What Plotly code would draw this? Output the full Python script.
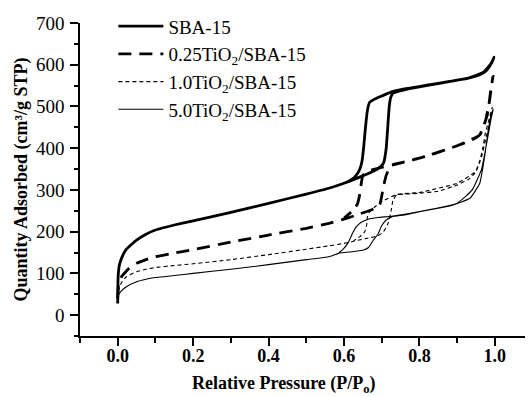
import plotly.graph_objects as go

# ---------------- data ----------------
names = ["SBA-15", "0.25TiO<sub>2</sub>/SBA-15", "1.0TiO<sub>2</sub>/SBA-15", "5.0TiO<sub>2</sub>/SBA-15"]

# SBA-15: adsorption branch then desorption branch
sba_x = [0.0, 0.001, 0.004, 0.01, 0.023, 0.05, 0.075, 0.1, 0.15, 0.2, 0.3, 0.4, 0.5, 0.56, 0.6, 0.64, 0.68, 0.695,
         0.705, 0.712, 0.716, 0.72, 0.724, 0.73, 0.76, 0.8, 0.85, 0.9, 0.94, 0.96, 0.975, 0.985, 0.993, 0.998,
         0.99, 0.97, 0.93, 0.88, 0.82, 0.76, 0.726, 0.70, 0.68, 0.668, 0.662, 0.657, 0.652, 0.648, 0.643, 0.635, 0.625, 0.61]
sba_y = [28, 90, 118, 136, 158, 180, 194, 204, 216, 226, 246, 268, 290, 304, 316, 330, 346, 354,
         365, 400, 450, 500, 522, 532, 540, 547, 555, 563, 570, 576, 584, 595, 607, 618,
         603, 582, 568, 560, 551, 542, 535, 525, 517, 510, 490, 450, 400, 370, 352, 338, 328, 320]

# 0.25TiO2/SBA-15
t025_x = [0.0, 0.002, 0.01, 0.03, 0.05, 0.075, 0.1, 0.15, 0.2, 0.3, 0.4, 0.5, 0.56, 0.6, 0.64, 0.68, 0.695, 0.70,
          0.705, 0.712, 0.72, 0.73, 0.76, 0.8, 0.85, 0.9, 0.94, 0.96, 0.975, 0.985, 0.99, 0.995,
          0.99, 0.98, 0.96, 0.9, 0.8, 0.73, 0.69, 0.665, 0.65, 0.645, 0.642, 0.635, 0.62, 0.6]
t025_y = [40, 72, 92, 112, 124, 133, 140, 149, 157, 175, 192, 208, 220, 230, 242, 255, 265, 285,
          310, 335, 352, 361, 367, 376, 390, 406, 420, 432, 465, 510, 545, 572,
          540, 480, 432, 406, 376, 360, 352, 345, 335, 310, 290, 265, 248, 232]

# 1.0TiO2/SBA-15
t10_x = [0.0, 0.003, 0.01, 0.023, 0.05, 0.075, 0.1, 0.15, 0.2, 0.3, 0.4, 0.5, 0.56, 0.6, 0.62, 0.66, 0.69,
         0.705, 0.717, 0.725, 0.73, 0.74, 0.8, 0.85, 0.9, 0.93, 0.947, 0.96, 0.968, 0.975, 0.985, 0.993,
         0.988, 0.978, 0.965, 0.95, 0.9, 0.8, 0.74, 0.70, 0.68, 0.668, 0.662, 0.66, 0.655, 0.642, 0.625]
t10_y = [40, 62, 78, 92, 104, 110, 114, 119, 123, 133, 145, 158, 166, 172, 176, 184, 190,
         200, 220, 250, 276, 288, 292, 297, 312, 325, 340, 370, 400, 436, 470, 498,
         470, 430, 380, 345, 316, 294, 289, 272, 258, 248, 235, 215, 200, 188, 178]

# 5.0TiO2/SBA-15
t50_x = [0.0, 0.003, 0.01, 0.023, 0.05, 0.075, 0.1, 0.15, 0.2, 0.3, 0.4, 0.5, 0.56, 0.586, 0.62, 0.652, 0.665,
         0.678, 0.69, 0.70, 0.712, 0.728, 0.76, 0.8, 0.85, 0.889, 0.934, 0.96, 0.973, 0.982, 0.99, 0.996,
         0.99, 0.98, 0.965, 0.94, 0.9, 0.8, 0.726, 0.69, 0.664, 0.645, 0.633, 0.622, 0.612, 0.598, 0.586]
t50_y = [35, 50, 58, 68, 80, 86, 90, 95, 100, 110, 121, 133, 140, 148, 152, 156, 162,
         180, 194, 214, 228, 236, 240, 248, 256, 264, 280, 316, 380, 440, 480, 494,
         470, 420, 350, 300, 268, 248, 237, 234, 230, 222, 212, 195, 175, 158, 149]

x_ticks = [0.0, 0.2, 0.4, 0.6, 0.8, 1.0]
x_ticklabels = ["0.0", "0.2", "0.4", "0.6", "0.8", "1.0"]
y_ticks = [0, 100, 200, 300, 400, 500, 600, 700]
x_title = "Relative Pressure (P/P<sub>o</sub>)"
y_title = "Quantity Adsorbed (cm³/g STP)"

FONT = "Liberation Serif"

fig = go.Figure()
series = [
    (sba_x, sba_y, dict(color="black", width=2.8, dash="solid")),
    (t025_x, t025_y, dict(color="black", width=2.8, dash="13px,8px")),
    (t10_x, t10_y, dict(color="black", width=1.1, dash="4px,3px")),
    (t50_x, t50_y, dict(color="black", width=1.1, dash="solid")),
]
for (xs, ys, ln), nm in zip(series, names):
    fig.add_trace(go.Scatter(x=xs, y=ys, mode="lines", name=nm, line=ln, line_shape="spline",
                             line_smoothing=0.4))

fig.update_layout(
    width=528, height=396,
    margin=dict(l=80, r=3, t=23, b=60),
    paper_bgcolor="white", plot_bgcolor="white",
    font=dict(family=FONT, color="black", size=16),
    showlegend=True,
    legend=dict(x=0.075, y=1.05, xanchor="left", yanchor="top",
                bgcolor="rgba(0,0,0,0)", font=dict(family=FONT, size=19),
                itemwidth=45, tracegroupgap=0),
)

fig.add_annotation(text=x_title, xref="paper", yref="paper", x=0.458, y=-0.155,
                   xanchor="center", yanchor="middle", showarrow=False,
                   font=dict(family=FONT, size=18, weight="bold"))

fig.update_xaxes(
    range=[-0.1, 1.08], showgrid=False, zeroline=False,
    showline=True, linecolor="black", linewidth=1.5, mirror=False,
    tickmode="array", tickvals=x_ticks, ticktext=x_ticklabels,
    ticks="outside", ticklen=8, tickwidth=1.5, tickcolor="black",
    ticklabelstandoff=-5,
    tickfont=dict(family=FONT, size=18, weight="bold"),
    minor=dict(ticks="outside", ticklen=5, tickwidth=1.5, tickcolor="black", dtick=0.1, tick0=0),
)
fig.update_yaxes(
    range=[-50, 700], showgrid=False, zeroline=False,
    showline=True, linecolor="black", linewidth=1.5, mirror=False,
    tickmode="array", tickvals=y_ticks,
    ticks="outside", ticklen=8, tickwidth=1.5, tickcolor="black",
    ticklabelstandoff=2,
    tickfont=dict(family=FONT, size=19),
    minor=dict(ticks="outside", ticklen=4, tickwidth=1.5, tickcolor="black", dtick=50, tick0=0),
    title=dict(text=y_title, font=dict(family=FONT, size=18, weight="bold"), standoff=4),
)

fig.write_html("out.html")
